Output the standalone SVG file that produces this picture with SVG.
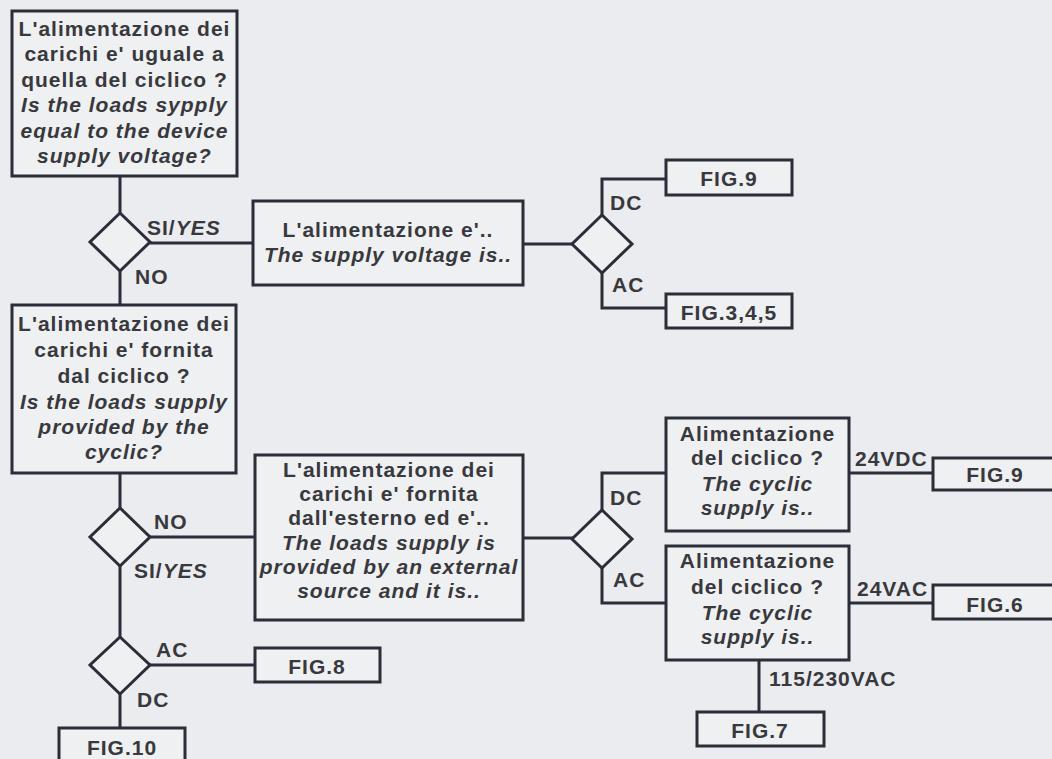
<svg xmlns="http://www.w3.org/2000/svg" width="1052" height="759" viewBox="0 0 1052 759">
<style>
.box{fill:#eef0f2;stroke:#2b2d38;stroke-width:3}
.dia{fill:#eef0f2;stroke:#2b2d38;stroke-width:3;stroke-linejoin:miter}
.ln{fill:none;stroke:#2b2d38;stroke-width:3}
text{font-family:"Liberation Sans",Arial,sans-serif;font-weight:bold;font-size:21px;letter-spacing:1px;fill:#38383d}
.c{text-anchor:middle}
.i{font-style:italic}
</style>
<rect width="1052" height="759" fill="#eaecef"/>
<g id="connectors">
<line class="ln" x1="120" y1="176" x2="120" y2="213"/>
<line class="ln" x1="150" y1="243" x2="253" y2="243"/>
<line class="ln" x1="120" y1="271" x2="120" y2="305"/>
<line class="ln" x1="120" y1="473" x2="120" y2="508"/>
<line class="ln" x1="150" y1="537" x2="255" y2="537"/>
<line class="ln" x1="120" y1="566" x2="120" y2="637"/>
<line class="ln" x1="150" y1="665" x2="255" y2="665"/>
<line class="ln" x1="120" y1="694" x2="120" y2="728"/>
<line class="ln" x1="523" y1="244" x2="572" y2="244"/>
<polyline class="ln" points="602,215 602,179 666,179"/>
<polyline class="ln" points="602,273 602,308 666,308"/>
<line class="ln" x1="523" y1="538" x2="573" y2="538"/>
<polyline class="ln" points="602,510 602,473 666,473"/>
<polyline class="ln" points="602,568 602,603 666,603"/>
<line class="ln" x1="849" y1="473" x2="933" y2="473"/>
<line class="ln" x1="849" y1="603" x2="933" y2="603"/>
<line class="ln" x1="759" y1="660" x2="759" y2="712"/>
</g>
<g id="q1">
<rect class="box" x="12" y="11" width="225" height="165"/>
<text class="c" x="124.5" y="36">L'alimentazione dei</text>
<text class="c" x="124.5" y="61">carichi e' uguale a</text>
<text class="c" x="124.5" y="87">quella del ciclico ?</text>
<text class="c i" x="124.5" y="112">Is the loads sypply</text>
<text class="c i" x="124.5" y="138">equal to the device</text>
<text class="c i" x="124.5" y="163">supply voltage?</text>
</g>
<g id="d1">
<polygon class="dia" points="120,213 150,242 120,271 90,242"/>
<text x="147" y="235">SI/<tspan class="i">YES</tspan></text>
<text x="135" y="284">NO</text>
</g>
<g id="b2">
<rect class="box" x="253" y="201" width="270" height="84"/>
<text class="c" x="388" y="237">L'alimentazione e'..</text>
<text class="c i" x="388" y="262">The supply voltage is..</text>
</g>
<g id="d2">
<polygon class="dia" points="602,215 632,244 602,273 572,244"/>
<text x="610" y="210">DC</text>
<text x="612" y="292">AC</text>
</g>
<g id="fig9a">
<rect class="box" x="666" y="160" width="126" height="35"/>
<text class="c" x="729" y="186">FIG.9</text>
</g>
<g id="fig345">
<rect class="box" x="666" y="294" width="126" height="34"/>
<text class="c" x="729" y="320">FIG.3,4,5</text>
</g>
<g id="q2">
<rect class="box" x="12" y="305" width="224" height="168"/>
<text class="c" x="124" y="331">L'alimentazione dei</text>
<text class="c" x="124" y="357">carichi e' fornita</text>
<text class="c" x="124" y="383">dal ciclico ?</text>
<text class="c i" x="124" y="409">Is the loads supply</text>
<text class="c i" x="124" y="434">provided by the</text>
<text class="c i" x="124" y="459">cyclic?</text>
</g>
<g id="d3">
<polygon class="dia" points="120,508 150,537 120,566 90,537"/>
<text x="154" y="529">NO</text>
<text x="134" y="578">SI/<tspan class="i">YES</tspan></text>
</g>
<g id="d4">
<polygon class="dia" points="120,637 150,665 120,694 90,665"/>
<text x="156" y="657">AC</text>
<text x="137" y="707">DC</text>
</g>
<g id="fig8">
<rect class="box" x="255" y="648" width="125" height="34"/>
<text class="c" x="317" y="674">FIG.8</text>
</g>
<g id="fig10">
<rect class="box" x="59" y="728" width="126" height="40"/>
<text class="c" x="122" y="755">FIG.10</text>
</g>
<g id="b4">
<rect class="box" x="255" y="455" width="268" height="165"/>
<text class="c" x="389" y="477">L'alimentazione dei</text>
<text class="c" x="389" y="501">carichi e' fornita</text>
<text class="c" x="389" y="525">dall'esterno ed e'..</text>
<text class="c i" x="389" y="550">The loads supply is</text>
<text class="c i" x="389" y="574">provided by an external</text>
<text class="c i" x="389" y="598">source and it is..</text>
</g>
<g id="d5">
<polygon class="dia" points="602,510 632,539 602,568 572,539"/>
<text x="610" y="505">DC</text>
<text x="613" y="587">AC</text>
</g>
<g id="b5">
<rect class="box" x="666" y="418" width="183" height="113"/>
<text class="c" x="757.5" y="441">Alimentazione</text>
<text class="c" x="757.5" y="465">del ciclico ?</text>
<text class="c i" x="757.5" y="491">The cyclic</text>
<text class="c i" x="757.5" y="515">supply is..</text>
</g>
<g id="b6">
<rect class="box" x="666" y="546" width="183" height="114"/>
<text class="c" x="757.5" y="568">Alimentazione</text>
<text class="c" x="757.5" y="594">del ciclico ?</text>
<text class="c i" x="757.5" y="620">The cyclic</text>
<text class="c i" x="757.5" y="644">supply is..</text>
</g>
<g id="fig9b">
<rect class="box" x="933" y="458" width="130" height="32"/>
<text class="c" x="995" y="482">FIG.9</text>
</g>
<g id="fig6">
<rect class="box" x="933" y="585" width="130" height="34"/>
<text class="c" x="995" y="612">FIG.6</text>
</g>
<g id="fig7">
<rect class="box" x="697" y="712" width="127" height="34"/>
<text class="c" x="760" y="738">FIG.7</text>
</g>
<g id="labels">
<text x="855" y="466">24VDC</text>
<text x="857" y="596">24VAC</text>
<text x="769" y="686">115/230VAC</text>
</g>
</svg>
